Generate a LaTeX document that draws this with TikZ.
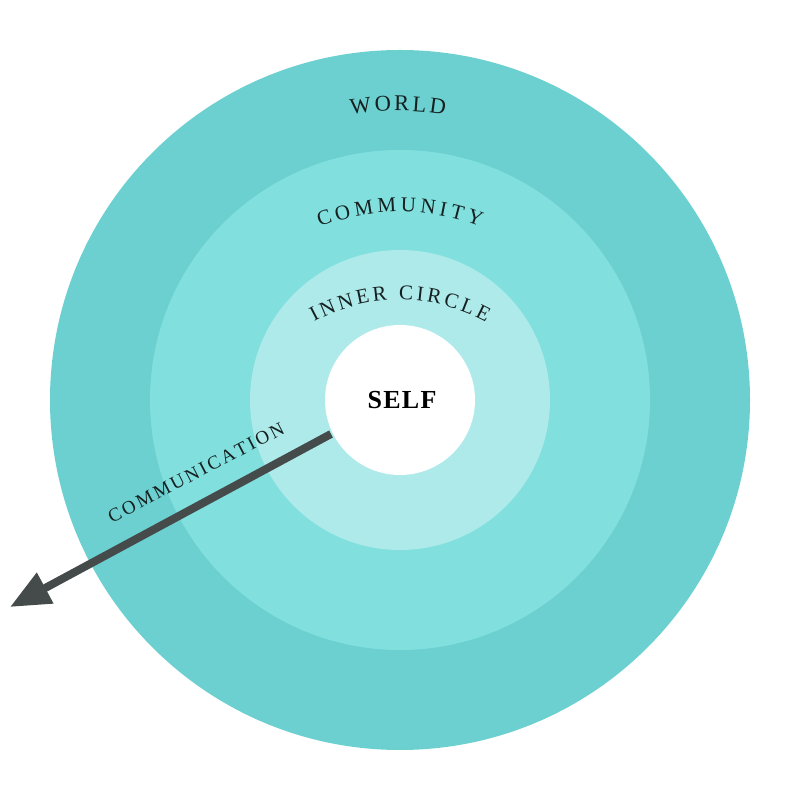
\documentclass[tikz,border=0pt]{standalone}
\usepackage{fontspec}
\setmainfont{Liberation Serif}
\usetikzlibrary{calc,arrows.meta}
\definecolor{cworld}{HTML}{6CD0D0}
\definecolor{ccomm}{HTML}{81DFDE}
\definecolor{cinner}{HTML}{AFEAEB}
\definecolor{ctxt}{HTML}{152020}
\definecolor{carrow}{HTML}{454B4B}
\newdimen\ltrw
\newdimen\arctotal
\newdimen\arcpos
\newcommand\fWorld{\fontsize{22.5}{26}\selectfont}
\newcommand\fComm{\fontsize{21}{25}\selectfont}
\newcommand\fInner{\fontsize{21}{25}\selectfont}
\newcommand\fSelf{\fontsize{26}{30}\selectfont\bfseries}
\newcommand\fCommu{\fontsize{19}{22}\selectfont}
% measure letters inside a node (where the font is live)
\newcommand\MeasureLetters[4]{% #1 center, #2 font, #3 spacing, #4 letters ; prefix via \mprefix
  \global\arctotal=0pt
  \node[inner sep=0pt, text opacity=0] (\mprefix meas) at (#1) {\foreach \ch [count=\i] in {#4}{\settowidth{\ltrw}{#2\ch}\global\advance\arctotal by \ltrw\relax\global\advance\arctotal by #3\relax\expandafter\xdef\csname lw\mprefix\i\endcsname{\the\ltrw}}};
  \global\advance\arctotal by -#3\relax
}
% #1 center, #2 radius (pt number), #3 font, #4 spacing, #5 letters, #6 name prefix
\newcommand\ArcText[6]{%
  \def\mprefix{#6}%
  \MeasureLetters{#1}{#3}{#4}{#5}%
  \global\arcpos=0pt
  \foreach \ch [count=\i] in {#5}{%
    \edef\lw{\csname lw#6\i\endcsname}%
    \pgfmathsetmacro\ang{90+(0.5*\the\arctotal-\the\arcpos-0.5*\lw)/(#2)*180/pi}%
    \node[arctxt, rotate=\ang-90] (#6\i) at ($(#1)+(\ang:#2pt)$) {#3\ch};
    \global\advance\arcpos by \lw\relax
    \global\advance\arcpos by #4\relax
  }%
}
% #1 center, #2 angle, #3 font, #4 spacing, #5 letters, #6 name prefix
\newcommand\LineText[6]{%
  \def\mprefix{#6}%
  \MeasureLetters{#1}{#3}{#4}{#5}%
  \global\arcpos=0pt
  \foreach \ch [count=\i] in {#5}{%
    \edef\lw{\csname lw#6\i\endcsname}%
    \pgfmathsetmacro\off{\the\arcpos+0.5*\lw-0.5*\the\arctotal}%
    \node[arctxt, rotate=#2] (#6\i) at ($(#1)+(#2:\off pt)$) {#3\ch};
    \global\advance\arcpos by \lw\relax
    \global\advance\arcpos by #4\relax
  }%
}
\tikzset{
  ring/.style={circle, inner sep=0pt, draw=none},
  arctxt/.style={anchor=base, inner sep=0pt, text=ctxt},
}
\begin{document}
\begin{tikzpicture}[x=1pt,y=1pt]
\useasboundingbox (0,0) rectangle (800,800);
\fill[white] (0,0) rectangle (800,800);
\coordinate (O) at (400,400);
\node[ring, fill=cworld, minimum size=700pt] (world) at (O) {};
\node[ring, fill=ccomm, minimum size=500pt] (community) at (O) {};
\node[ring, fill=cinner, minimum size=300pt] (inner) at (O) {};
\node[ring, fill=white, minimum size=150pt] (self) at (O) {};
\coordinate (cS) at (402,391);
\coordinate (cW) at (398,400);
\coordinate (cC) at (400,367);
\coordinate (cI) at (400,320);
\coordinate (cM) at (199,322);
\begin{scope}[arctxt/.append style={text=black}]
\LineText{cS}{0}{\fSelf}{1.3pt}{S,E,L,F}{s}
\end{scope}
\ArcText{cW}{289}{\fWorld}{3pt}{W,O,R,L,D}{w}
\ArcText{cC}{221}{\fComm}{4pt}{C,O,M,M,U,N,I,T,Y}{c}
\ArcText{cI}{180}{\fInner}{3.2pt}{I,N,N,E,R,~,C,I,R,C,L,E}{i}
\coordinate (astart) at (331,366);
\coordinate (atip) at (10,193);
\draw[carrow, line width=8pt, -{Triangle[length=40pt,width=33pt]}] (astart) -- (atip);
\LineText{cM}{27.5}{\fCommu}{2.5pt}{C,O,M,M,U,N,I,C,A,T,I,O,N}{m}
\end{tikzpicture}
\end{document}
